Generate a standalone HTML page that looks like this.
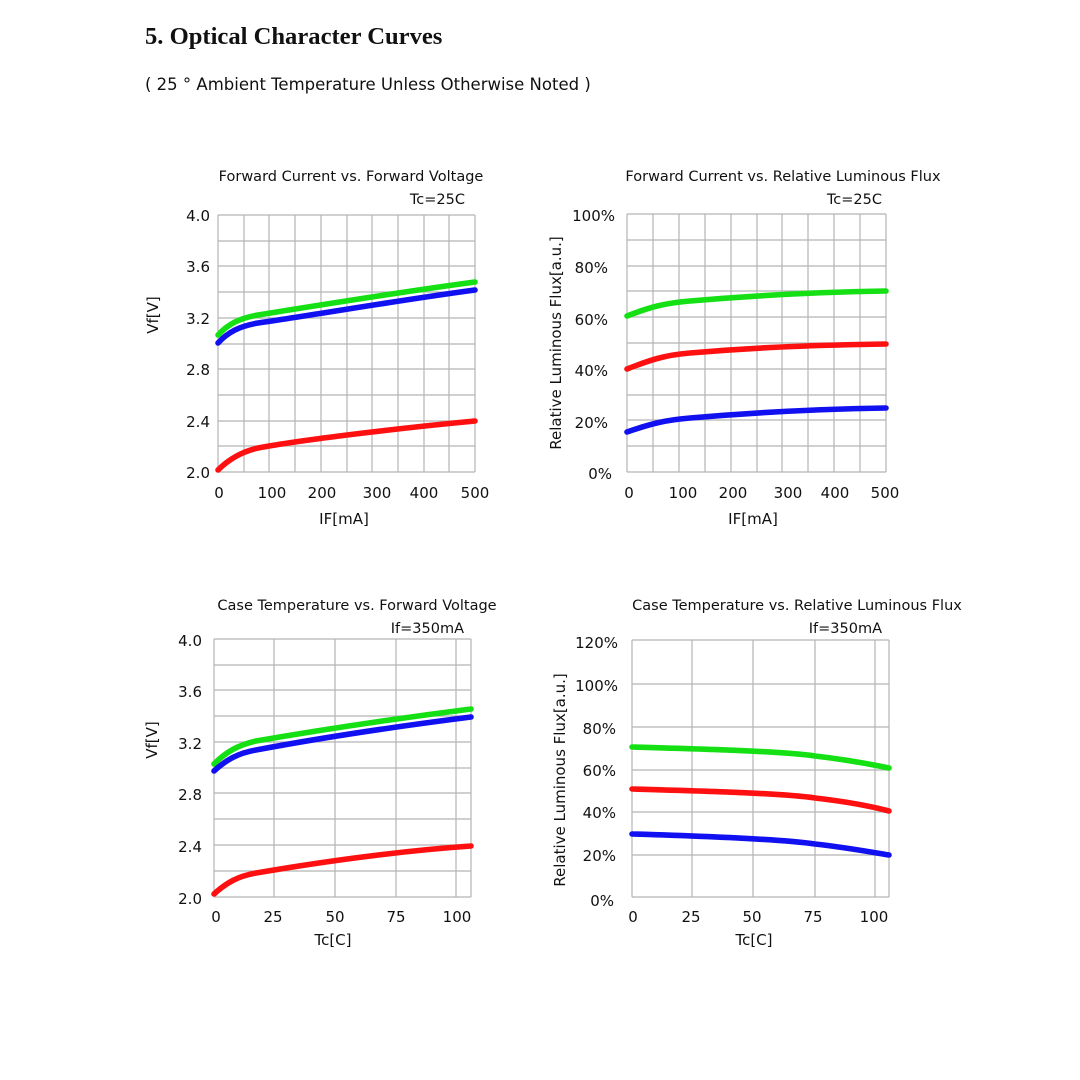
<!DOCTYPE html>
<html><head><meta charset="utf-8"><style>
body{margin:0;background:#fff;width:1080px;height:1080px;overflow:hidden}
svg{display:block}
text{font-family:"DejaVu Sans","Liberation Sans",sans-serif;fill:#111}
.t{font-size:14.5px}
.k{font-size:15px}
.g{stroke:#b4b4b4;stroke-width:1.2;fill:none}
.c{fill:none;stroke-width:5.6;stroke-linecap:round}
</style></head><body>
<svg width="1080" height="1080" viewBox="0 0 1080 1080">
<text x="145" y="44" style="font-family:'Liberation Serif',serif;font-weight:bold;font-size:24.6px">5. Optical Character Curves</text>
<text x="145" y="90" style="font-size:16.5px">( 25 ° Ambient Temperature Unless Otherwise Noted )</text>

<!-- Chart 1 -->
<g>
<path class="g" d="M218,215V472M244,215V472M269,215V472M295,215V472M321,215V472M347,215V472M372,215V472M398,215V472M424,215V472M449,215V472M475,215V472
M218,215H475M218,241H475M218,266H475M218,292H475M218,318H475M218,344H475M218,369H475M218,395H475M218,421H475M218,446H475M218,472H475"/>
<text class="t" x="351" y="181" text-anchor="middle">Forward Current vs. Forward Voltage</text>
<text class="t" x="465" y="204" text-anchor="end">Tc=25C</text>
<g class="k" text-anchor="end"><text x="210" y="221">4.0</text><text x="210" y="272">3.6</text><text x="210" y="324">3.2</text><text x="210" y="375">2.8</text><text x="210" y="427">2.4</text><text x="210" y="478">2.0</text></g>
<g class="k" text-anchor="middle"><text x="219" y="498">0</text><text x="272" y="498">100</text><text x="322" y="498">200</text><text x="377" y="498">300</text><text x="424" y="498">400</text><text x="475" y="498">500</text></g>
<text class="k" x="344" y="524" text-anchor="middle">IF[mA]</text>
<text class="k" transform="translate(158,315) rotate(-90)" text-anchor="middle">Vf[V]</text>
<path class="c" stroke="#ff1010" d="M218,470 C228,460 240,452 258,448 C300,440 400,428 475,421"/>
<path class="c" stroke="#14e014" d="M218,335 C228,324 240,318 258,315 C320,305 400,292 475,282"/>
<path class="c" stroke="#1010f0" d="M218,343 C228,332 240,326 258,323 C320,314 400,300 475,290"/>
</g>

<!-- Chart 2 -->
<g>
<path class="g" d="M627,214V472M653,214V472M679,214V472M705,214V472M731,214V472M757,214V472M782,214V472M808,214V472M834,214V472M860,214V472M886,214V472
M627,214H886M627,240H886M627,266H886M627,291H886M627,317H886M627,343H886M627,369H886M627,395H886M627,420H886M627,446H886M627,472H886"/>
<text class="t" x="783" y="181" text-anchor="middle">Forward Current vs. Relative Luminous Flux</text>
<text class="t" x="882" y="204" text-anchor="end">Tc=25C</text>
<g class="k" text-anchor="end"><text x="615" y="221">100%</text><text x="608" y="273">80%</text><text x="608" y="325">60%</text><text x="608" y="376">40%</text><text x="608" y="428">20%</text><text x="612" y="479">0%</text></g>
<g class="k" text-anchor="middle"><text x="629" y="498">0</text><text x="683" y="498">100</text><text x="733" y="498">200</text><text x="788" y="498">300</text><text x="835" y="498">400</text><text x="885" y="498">500</text></g>
<text class="k" x="753" y="524" text-anchor="middle">IF[mA]</text>
<text class="k" transform="translate(561,343) rotate(-90)" text-anchor="middle">Relative Luminous Flux[a.u.]</text>
<path class="c" stroke="#14e014" d="M627,316 C650,307 665,303 690,301 C760,295 820,292 886,291"/>
<path class="c" stroke="#ff1010" d="M627,369 C650,360 665,355 690,353 C760,347 820,345 886,344"/>
<path class="c" stroke="#1010f0" d="M627,432 C650,424 665,420 690,418 C760,412 820,409 886,408"/>
</g>

<!-- Chart 3 -->
<g>
<path class="g" d="M214,639V897M274,639V897M335,639V897M396,639V897M456,639V897M471,639V897
M214,639H471M214,665H471M214,690H471M214,716H471M214,742H471M214,768H471M214,793H471M214,819H471M214,845H471M214,871H471M214,897H471"/>
<text class="t" x="357" y="610" text-anchor="middle">Case Temperature vs. Forward Voltage</text>
<text class="t" x="464" y="633" text-anchor="end">If=350mA</text>
<g class="k" text-anchor="end"><text x="202" y="646">4.0</text><text x="202" y="697">3.6</text><text x="202" y="749">3.2</text><text x="202" y="800">2.8</text><text x="202" y="852">2.4</text><text x="202" y="904">2.0</text></g>
<g class="k" text-anchor="middle"><text x="216" y="922">0</text><text x="273" y="922">25</text><text x="335" y="922">50</text><text x="396" y="922">75</text><text x="457" y="922">100</text></g>
<text class="k" x="333" y="945" text-anchor="middle">Tc[C]</text>
<text class="k" transform="translate(157,740) rotate(-90)" text-anchor="middle">Vf[V]</text>
<path class="c" stroke="#ff1010" d="M214,894 C226,883 238,876 256,873 C320,862 400,851 471,846"/>
<path class="c" stroke="#14e014" d="M214,764 C226,752 238,745 256,741 C320,730 400,718 471,709"/>
<path class="c" stroke="#1010f0" d="M214,771 C226,760 238,753 256,750 C320,738 400,726 471,717"/>
</g>

<!-- Chart 4 -->
<g>
<path class="g" d="M632,640V897M692,640V897M753,640V897M815,640V897M875,640V897M889,640V897
M632,640H889M632,684H889M632,727H889M632,770H889M632,812H889M632,855H889M632,897H889"/>
<text class="t" x="797" y="610" text-anchor="middle">Case Temperature vs. Relative Luminous Flux</text>
<text class="t" x="882" y="633" text-anchor="end">If=350mA</text>
<g class="k" text-anchor="end"><text x="618" y="648">120%</text><text x="618" y="691">100%</text><text x="616" y="734">80%</text><text x="616" y="776">60%</text><text x="616" y="818">40%</text><text x="616" y="861">20%</text><text x="614" y="906">0%</text></g>
<g class="k" text-anchor="middle"><text x="633" y="922">0</text><text x="691" y="922">25</text><text x="752" y="922">50</text><text x="813" y="922">75</text><text x="874" y="922">100</text></g>
<text class="k" x="754" y="945" text-anchor="middle">Tc[C]</text>
<text class="k" transform="translate(565,780) rotate(-90)" text-anchor="middle">Relative Luminous Flux[a.u.]</text>
<path class="c" stroke="#14e014" d="M632,747 C700,749 780,751 815,756 C850,760 870,764 889,768"/>
<path class="c" stroke="#ff1010" d="M632,789 C700,791 780,793 815,798 C850,802 870,806 889,811"/>
<path class="c" stroke="#1010f0" d="M632,834 C700,836 780,839 815,844 C850,848 870,852 889,855"/>
</g>
</svg>
</body></html>
